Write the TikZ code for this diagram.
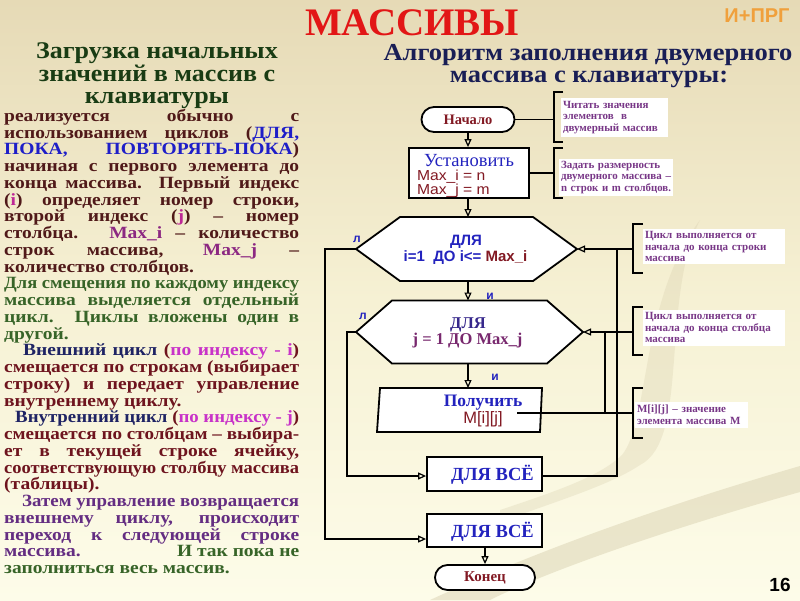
\documentclass[tikz,border=0pt]{standalone}
\usepackage{fontspec}
\usepackage{graphicx}
\setmainfont{Liberation Serif}
\newfontfamily\arialf{Liberation Sans}
\usetikzlibrary{arrows.meta,shapes.misc}
\definecolor{bgtop}{RGB}{230,218,182}
\definecolor{bgmid}{RGB}{246,241,212}
\definecolor{bgbot}{RGB}{253,252,233}
\definecolor{swoosh}{RGB}{214,205,172}
\definecolor{tred}{RGB}{226,22,22}
\definecolor{torange}{RGB}{240,160,60}
\definecolor{hgreen}{RGB}{25,60,20}
\definecolor{hnavy}{RGB}{25,30,85}
\definecolor{tbrown}{RGB}{80,25,25}
\definecolor{tblue}{RGB}{30,30,200}
\definecolor{tmag}{RGB}{190,40,150}
\definecolor{tpur}{RGB}{140,40,130}
\definecolor{tgreen}{RGB}{55,100,40}
\definecolor{tnavy}{RGB}{30,35,100}
\definecolor{tmaroon}{RGB}{110,20,30}
\definecolor{tpink}{RGB}{200,50,200}
\definecolor{tviolet}{RGB}{100,45,130}
\definecolor{fmaroon}{RGB}{130,25,35}
\definecolor{fblue}{RGB}{35,35,190}
\definecolor{fnavy}{RGB}{55,40,140}
\definecolor{fpur}{RGB}{120,40,110}
\definecolor{notec}{RGB}{120,55,135}
\newcommand\bodyfont{\fontsize{19.5}{19.5}\selectfont\bfseries}
\newcommand\notefont{\fontsize{11}{11.5}\selectfont\bfseries}
\newsavebox\linebox
\newcommand\fitline[2]{\sbox\linebox{#2}%
 \ifdim\wd\linebox>#1\relax\resizebox{#1}{\height}{\usebox\linebox}\else\makebox[#1][s]{#2}\fi}
\newcommand\fitnat[2]{\sbox\linebox{#2}%
 \ifdim\wd\linebox>#1\relax\resizebox{#1}{\height}{\usebox\linebox}\else\usebox\linebox\fi}
\newcommand\jl[3]{\node[bodytxt] (L#1) at (#2,{119+16.75*#1}) {\scalebox{1}[0.88]{\fitline{\dimexpr299pt-#2pt\relax}{#3}}};}
\newcommand\lfl[3]{\node[bodytxt] (L#1) at (#2,{119+16.75*#1}) {\scalebox{1}[0.88]{#3}};}
\newcommand\myhex[6]{%
 \draw[conn, fill=white] ({#2-#4},#3) -- ({#2-#4+#6},{#3-#5}) -- ({#2+#4-#6},{#3-#5}) -- ({#2+#4},#3) -- ({#2+#4-#6},{#3+#5}) -- ({#2-#4+#6},{#3+#5}) -- cycle;
 \node[ghost, minimum width={2*#4}, minimum height={2*#5}] (#1) at (#2,#3) {};}
\begin{document}
\begin{tikzpicture}[x=1pt,y=-1pt,
  conn/.style={line width=1.8pt, draw=black},
  arr/.style={conn, -{Triangle[open,length=8pt,width=7pt,line width=1.2pt]}},
  box/.style={draw, line width=1.8pt, fill=white, inner sep=0pt},
  ghost/.style={inner sep=0pt, outer sep=0pt},
  bodytxt/.style={anchor=mid west, inner sep=0pt, font=\bodyfont},
  note/.style={fill=white, inner sep=2pt, font=\notefont, text=notec, align=left},
  brk/.style={line width=2.2pt, draw=black},
  lbl/.style={ghost, font=\arialf\bfseries\fontsize{12}{12}\selectfont, text=fblue},
  headL/.style={ghost, anchor=base, font=\fontsize{26}{26}\selectfont\bfseries, text=hgreen},
  headR/.style={ghost, anchor=base, font=\fontsize{26.5}{26.5}\selectfont\bfseries, text=hnavy},
]
\useasboundingbox (0,0) rectangle (800,600);
% background
\fill[top color=bgtop, bottom color=bgbot, middle color=bgmid] (0,0) rectangle (800,600);
\fill[swoosh, opacity=0.45] (430,600) .. controls (560,540) and (700,495) .. (800,466) -- (800,492) .. controls (700,520) and (560,565) .. (490,600) -- cycle;
\fill[swoosh, opacity=0.3] (700,220) .. controls (660,300) and (690,440) .. (640,465) .. controls (610,485) and (560,500) .. (500,522) -- (500,510) .. controls (560,490) and (600,476) .. (622,455) .. controls (650,420) and (640,300) .. (700,220) -- cycle;

% titles
\node[ghost, anchor=base, font=\fontsize{39}{39}\selectfont\bfseries, text=tred] (title) at (412,35) {МАССИВЫ};
\node[ghost, anchor=base, font=\arialf\bfseries\fontsize{20}{20}\selectfont, text=torange] (tag) at (757,22) {И+ПРГ};
\node[headL] (hl1) at (157,58.5) {\scalebox{1}[0.92]{Загрузка начальных}};
\node[headL] (hl2) at (157,81) {\scalebox{1}[0.92]{значений в массив с}};
\node[headL] (hl3) at (157,103.5) {\scalebox{1}[0.92]{клавиатуры}};
\node[headR] (hr1) at (588,60) {\scalebox{1}[0.92]{Алгоритм заполнения двумерного}};
\node[headR] (hr2) at (589,82.5) {\scalebox{1}[0.92]{массива с клавиатуры:}};
\node[ghost, font=\arialf\bfseries\fontsize{19}{19}\selectfont] (pg) at (780,585) {16};

% body text
\jl{0}{4}{\color{tbrown}реализуется обычно с}
\jl{1}{4}{\color{tbrown}использованием циклов (\textcolor{tblue}{ДЛЯ,}}
\jl{2}{4}{\textcolor{tblue}{ПОКА, ПОВТОРЯТЬ-ПОКА}\textcolor{tbrown}{)}}
\jl{3}{4}{\color{tbrown}начиная с первого элемента до}
\jl{4}{4}{\color{tbrown}конца массива. Первый индекс}
\jl{5}{4}{\color{tbrown}(\textcolor{tmag}{i}) определяет номер строки,}
\jl{6}{4}{\color{tbrown}второй индекс (\textcolor{tmag}{j}) – номер}
\jl{7}{4}{\color{tbrown}столбца. \textcolor{tpur}{Max\_i} – количество}
\jl{8}{4}{\color{tbrown}строк массива, \textcolor{tpur}{Max\_j} –}
\lfl{9}{4}{\color{tbrown}количество столбцов.}
\jl{10}{4}{\color{tgreen}Для смещения по каждому индексу}
\jl{11}{4}{\color{tgreen}массива выделяется отдельный}
\jl{12}{4}{\color{tgreen}цикл. Циклы вложены один в}
\lfl{13}{4}{\color{tgreen}другой.}
\jl{14}{23}{\color{tmaroon}\textcolor{tnavy}{Внешний цикл} (\textcolor{tpink}{по индексу - i})}
\jl{15}{4}{\color{tmaroon}смещается по строкам (выбирает}
\jl{16}{4}{\color{tmaroon}строку) и передает управление}
\lfl{17}{4}{\color{tmaroon}внутреннему циклу.}
\jl{18}{15}{\color{tmaroon}\textcolor{tnavy}{Внутренний цикл} (\textcolor{tpink}{по индексу - j})}
\jl{19}{4}{\color{tmaroon}смещается по столбцам – выбира-}
\jl{20}{4}{\color{tmaroon}ет в текущей строке ячейку,}
\jl{21}{4}{\color{tmaroon}соответствующую столбцу массива}
\lfl{22}{4}{\color{tmaroon}(таблицы).}
\jl{23}{22}{\color{tviolet}Затем управление возвращается}
\jl{24}{4}{\color{tviolet}внешнему циклу, происходит}
\jl{25}{4}{\color{tviolet}переход к следующей строке}
\jl{26}{4}{\color{tviolet}массива.\hfill\textcolor{tgreen}{И так пока не}}
\lfl{27}{4}{\color{tgreen}заполниться весь массив.}

% flowchart nodes
\node[box, rounded rectangle, minimum width=93pt, minimum height=25pt, font=\bfseries\fontsize{14.5}{14.5}\selectfont, text=fmaroon] (start) at (468,119.5) {Начало};
\node[box, minimum width=120pt, minimum height=50pt] (setb) at (469,173) {};
\node[ghost, font=\fontsize{18.5}{18.5}\selectfont, text=fblue] (setT) at (469,160.5) {Установить};
\node[ghost, anchor=west, font=\arialf\fontsize{14.5}{14.5}\selectfont, text=fmaroon] (setI) at (417,176.5) {\scalebox{1.08}[1]{Max\_i = n}};
\node[ghost, anchor=west, font=\arialf\fontsize{14.5}{14.5}\selectfont, text=fmaroon] (setJ) at (417,190.5) {\scalebox{1.08}[1]{Max\_j = m}};

\myhex{hexA}{466.5}{249}{110.5}{32}{44}
\node[ghost, font=\arialf\bfseries\fontsize{15}{15}\selectfont, text=fblue] (hexAt1) at (466,241.5) {ДЛЯ};
\node[ghost, font=\arialf\bfseries\fontsize{15}{15}\selectfont, text=fblue] (hexAt2) at (465.5,257.5) {i=1\ \ ДО i<= \textcolor{fmaroon}{Max\_i}};

\myhex{hexB}{469.5}{332}{113.5}{31.5}{36}
\node[ghost, font=\bfseries\fontsize{16.5}{16.5}\selectfont, text=fnavy] (hexBt1) at (468,324.5) {ДЛЯ};
\node[ghost, font=\bfseries\fontsize{16.5}{16.5}\selectfont, text=fpur] (hexBt2) at (467.5,340.5) {j = 1 ДО Max\_j};

\node[lbl] (lA) at (357,239) {л};
\node[lbl] (lB) at (363,316) {л};
\node[lbl] (iA) at (490,296) {и};
\node[lbl] (iB) at (495,377) {и};

\draw[conn, fill=white] (380,388) -- (542,388) -- (540,432) -- (377,432) -- cycle;
\node[ghost, minimum width=165pt, minimum height=44pt] (get) at (459.5,410) {};
\node[ghost, font=\bfseries\fontsize{17.5}{17.5}\selectfont, text=fblue] (getT) at (483,402.5) {Получить};
\node[ghost, font=\arialf\fontsize{16.5}{16.5}\selectfont, text=fmaroon] (getM) at (483,419.5) {M[i][j]};
\coordinate (gt) at (517,413);

\node[box, minimum width=115pt, minimum height=34pt] (allA) at (484.5,474) {};
\node[ghost, font=\bfseries\fontsize{18.5}{18.5}\selectfont, text=fblue] (allAt) at (492.5,475) {ДЛЯ ВСЁ};
\node[box, minimum width=115pt, minimum height=33pt] (allB) at (484.5,530.5) {};
\node[ghost, font=\bfseries\fontsize{18.5}{18.5}\selectfont, text=fblue] (allBt) at (492.5,532) {ДЛЯ ВСЁ};
\node[box, rounded rectangle, minimum width=100pt, minimum height=25pt, font=\bfseries\fontsize{15}{15}\selectfont, text=fmaroon] (endn) at (485,577.5) {Конец};

% main arrows
\draw[arr] (start.south) -- (start.south |- setb.north);
\draw[arr] (setb.south -| start) -- (hexA.north -| start);
\draw[arr] (hexA.south -| start) -- (hexB.north -| start);
\draw[arr] (hexB.south -| start) -- (get.north -| start);
\draw[arr] (allB.south -| endn) -- (endn.north);

% loops
\draw[arr] (hexA.west) -- ++(-31,0) |- ([yshift=-8.5pt]allB.west);
\draw[arr] (hexB.west) -- ++(-9,0) |- ([yshift=-2pt]allA.west);
\coordinate (rA) at (617,249);
\coordinate (rB) at (605,332);
\coordinate (jn) at (605,413);
\draw[arr] ([yshift=-2pt]allA.east) -| (rA) -- (hexA.east);
\draw[arr] (rB) -- (hexB.east);
\draw[conn] (rB) -- (jn);

% brackets
\coordinate (bA) at (554,119.5);
\coordinate (bB) at (554,173);
\coordinate (bC) at (633,249);
\coordinate (bD) at (633,332);
\coordinate (bE) at (633,413);
\draw[brk] (563,92) -- (554,92) -- (554,142) -- (563,142);
\draw[brk] (563,148) -- (554,148) -- (554,198) -- (563,198);
\draw[brk] (643,224) -- (633,224) -- (633,273) -- (643,273);
\draw[brk] (643,307) -- (633,307) -- (633,355) -- (643,355);
\draw[brk] (643,388) -- (633,388) -- (633,438) -- (643,438);
\draw[conn] (start.east) -- (bA);
\draw[conn] (setb.east) -- (bB);
\draw[conn] (rA) -- (bC);
\draw[conn] (rB) -- (bD);
\draw[conn] (gt) -- (bE);

% notes
\node[note, text width=103pt, minimum height=39pt] (nA) at (614.5,117.5) {Читать значения\\элементов\ \ в\\двумерный массив};
\node[note, text width=110pt, minimum height=33pt] (nB) at (616,177.5) {\fitline{110pt}{Задать размерность}\\\fitline{110pt}{двумерного массива –}\\\fitnat{110pt}{n строк и m столбцов.}};
\node[note, text width=138pt, minimum height=35pt] (nC) at (714,246.5) {\fitline{138pt}{Цикл выполняется от}\\\fitline{138pt}{начала до конца строки}\\массива};
\node[note, text width=138pt, minimum height=36pt] (nD) at (714,327.5) {\fitline{138pt}{Цикл выполняется от}\\\fitline{138pt}{начала до конца столбца}\\массива};
\node[note, text width=109pt, minimum height=26pt] (nE) at (691.5,414.5) {\textbf{M}[i][j] – значение\\элемента массива \textbf{M}};
\end{tikzpicture}
\end{document}
